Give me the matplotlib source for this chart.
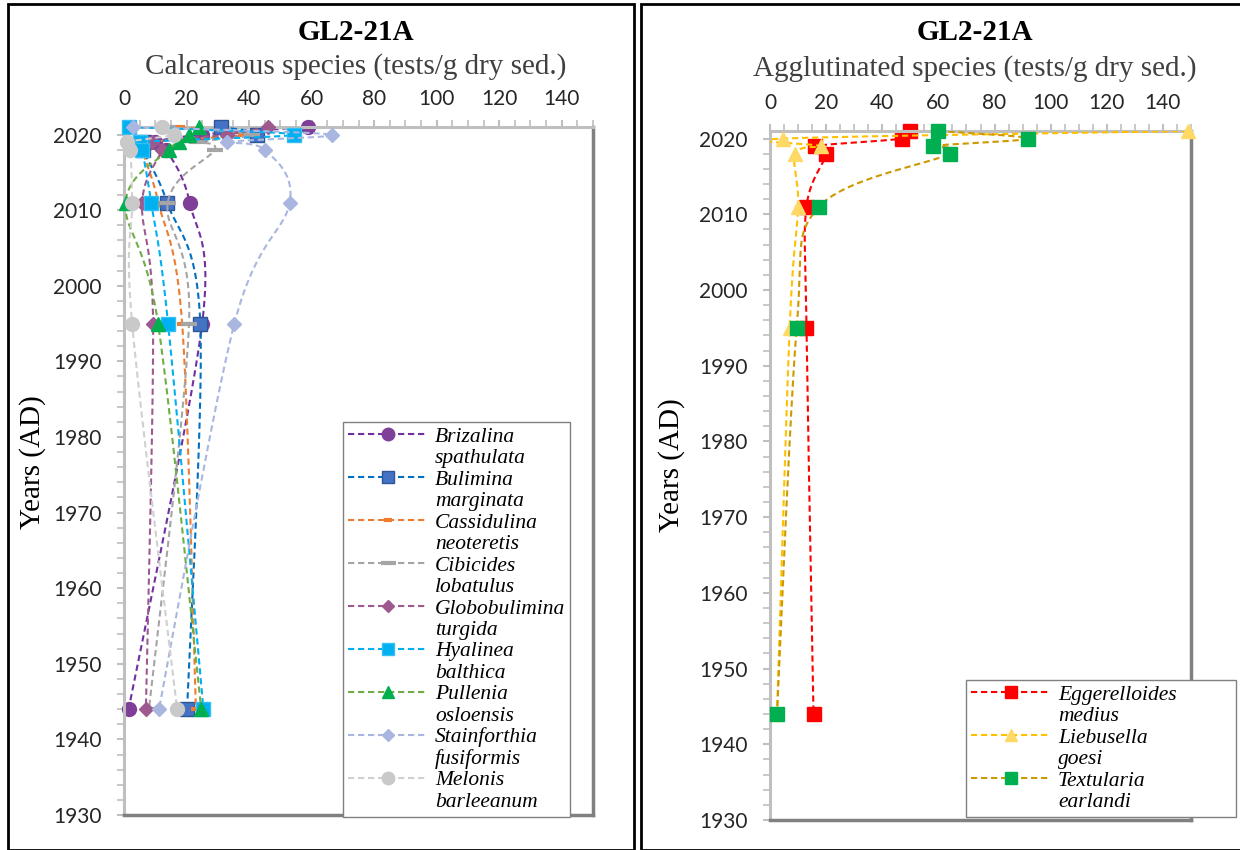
import numpy as np
import matplotlib
matplotlib.use("Agg")
import matplotlib.pyplot as plt
from matplotlib.lines import Line2D
from matplotlib.patches import Rectangle

# sample years (AD), shared by every series
years = [2021, 2020, 2019, 2018, 2011, 1995, 1944]

# calcareous species (tests/g dry sed.)
calc_genus = ["Brizalina", "Bulimina", "Cassidulina", "Cibicides", "Globobulimina",
              "Hyalinea", "Pullenia", "Stainforthia", "Melonis"]
calc_species = ["spathulata", "marginata", "neoteretis", "lobatulus", "turgida",
                "balthica", "osloensis", "fusiformis", "barleeanum"]
brizalina = [59, 25, 10, 13.5, 21, 25, 1.5]
bulimina = [31, 42.5, 6.5, 6, 13.8, 24.4, 20.2]
cassidulina = [18, 38, 8, 6, 11, 18.6, 23]
cibicides = [14, 41, 23.5, 29, 14, 20.8, 8]
globobulimina = [46, 33, 9, 12, 5.8, 9.3, 7]
hyalinea = [1.6, 54.5, 5, 5.8, 8.7, 14.1, 25.4]
pullenia = [24, 20.8, 17.6, 14.4, 0.5, 10.9, 24.7]
stainforthia = [3, 66.5, 33, 45, 53, 35.3, 11.2]
melonis = [12, 16, 1, 2, 2.6, 2.6, 17]

# agglutinated species (tests/g dry sed.)
aggl_genus = ["Eggerelloides", "Liebusella", "Textularia"]
aggl_species = ["medius", "goesi", "earlandi"]
eggerelloides = [50, 47, 16, 20, 13, 13, 15.5]
liebusella = [149, 4.5, 18, 9, 10, 7, 2.5]
textularia = [60, 92, 58, 64, 17.5, 9.5, 2.5]

# (line colour, marker, marker face, marker edge, marker size)
calc_styles = [
    ("#7030A0", "o", "#7F3F98", "#7F3F98", 10),
    ("#0070C0", "s", "#4472C4", "#2F5597", 9.5),
    ("#ED7D31", "_", "#ED7D31", "#ED7D31", 7),
    ("#A5A5A5", "_", "#A5A5A5", "#A5A5A5", 12),
    ("#9E5A8E", "D", "#9E5A8E", "#9E5A8E", 7),
    ("#00B0F0", "s", "#00B0F0", "#33BFF2", 9.5),
    ("#70AD47", "^", "#00B050", "#00B050", 10),
    ("#A9B6E0", "D", "#A9B6E0", "#A9B6E0", 7),
    ("#D0D0D0", "o", "#C9C9C9", "#C9C9C9", 10),
]
aggl_styles = [
    ("#FF0000", "s", "#FF0000", "#FF0000", 9.5),
    ("#FFC000", "^", "#FFD966", "#FFD966", 10),
    ("#CC9900", "s", "#00B050", "#00B050", 9.5),
]

DASH = (0, (3, 1.8))


def smooth(xs, ys, sx, sy, n=30):
    # Excel-like smoothed line: bezier through the points, built in pixel-ish units
    p = np.column_stack([np.asarray(xs, float) * sx, np.asarray(ys, float) * sy])
    out = [p[:1]]
    t = np.linspace(0, 1, n)[1:, None]
    for i in range(len(p) - 1):
        p0 = p[i - 1] if i > 0 else p[i]
        p3 = p[i + 2] if i + 2 < len(p) else p[i + 1]
        c1 = p[i] + (p[i + 1] - p0) / 6
        c2 = p[i + 1] - (p3 - p[i]) / 6
        seg = ((1 - t) ** 3 * p[i] + 3 * (1 - t) ** 2 * t * c1
               + 3 * (1 - t) * t ** 2 * c2 + t ** 3 * p[i + 1])
        out.append(seg)
    q = np.vstack(out)
    return q[:, 0] / sx, q[:, 1] / sy


def setup(ax):
    ax.set_xlim(0, 150)
    ax.set_ylim(1930, 2021)
    ax.xaxis.tick_top()
    ax.set_xticks(range(0, 141, 20))
    ax.set_xticks(np.arange(0, 151, 5), minor=True)
    ax.set_yticks(range(1930, 2021, 10))
    ax.set_yticks(np.arange(1930, 2022, 2), minor=True)
    ax.tick_params(which="both", color="#BFBFBF", direction="out", labelcolor="#262626")
    ax.tick_params(which="major", length=5, width=1.5, labelsize=15, pad=11)
    ax.tick_params(axis="x", which="major", pad=8)
    ax.tick_params(which="minor", length=5, width=1.2)
    for lab in ax.get_xticklabels() + ax.get_yticklabels():
        lab.set_family("Lato")
    ax.spines["left"].set_color("#BFBFBF")
    ax.spines["top"].set_color("#BFBFBF")
    ax.spines["left"].set_linewidth(2.2)
    ax.spines["top"].set_linewidth(2.2)
    ax.spines["right"].set_color("#808080")
    ax.spines["bottom"].set_color("#808080")
    ax.spines["right"].set_linewidth(2.5)
    ax.spines["bottom"].set_linewidth(2.5)


def draw(ax, series, styles, sx, sy):
    proxies = []
    for k, (vals, (lc, mk, mf, me, ms)) in enumerate(zip(series, styles)):
        xs, ys = smooth(vals, years, sx, sy)
        ax.plot(xs, ys, color=lc, lw=1.5, linestyle=DASH, zorder=2 + k)
        mew = 3 if mk == "_" else 1
        ax.plot(vals, years, linestyle="none", marker=mk, ms=ms, mfc=mf, mec=me,
                mew=mew, zorder=2.5 + k, clip_on=False)
        proxies.append(Line2D([], [], color=lc, lw=1.5, linestyle=DASH, marker=mk,
                              ms=ms * 0.9, mfc=mf, mec=me, mew=mew))
    return proxies


def add_legend(ax, fig, proxies, genus, species, anchor, width=None):
    handles, labels = [], []
    for h, g, s in zip(proxies, genus, species):
        handles += [h, Line2D([], [], linestyle="none")]
        labels += [g, s]
    kw = {}
    if width is not None:
        anchor = (anchor[0], anchor[1] - 0.01, width, 0.01)
        kw["mode"] = "expand"
    leg = ax.legend(handles, labels, loc="upper left", bbox_to_anchor=anchor,
                    bbox_transform=fig.transFigure,
                    prop=dict(family="Liberation Serif", style="italic", size=15.5),
                    handlelength=3.7, handletextpad=0.35, labelspacing=0.065,
                    borderaxespad=0, borderpad=0.22, frameon=True, fancybox=False,
                    edgecolor="#808080", framealpha=1, **kw)
    leg.get_frame().set_linewidth(1.0)
    leg.set_zorder(20)


W, H = 1240, 850
fig = plt.figure(figsize=(12.4, 8.5), dpi=100)

# panel frames
fig.patches.append(Rectangle((8 / W, 0), 626 / W, 846 / H, transform=fig.transFigure,
                             fill=False, ec="black", lw=2))
fig.patches.append(Rectangle((641 / W, 0), 600 / W, 846 / H, transform=fig.transFigure,
                             fill=False, ec="black", lw=2))

ax1 = fig.add_axes([124 / W, 1 - 815 / H, 469 / W, 688 / H])
ax2 = fig.add_axes([770 / W, 1 - 820 / H, 421 / W, 689 / H])
setup(ax1)
setup(ax2)

calc = [brizalina, bulimina, cassidulina, cibicides, globobulimina,
        hyalinea, pullenia, stainforthia, melonis]
aggl = [eggerelloides, liebusella, textularia]

p1 = draw(ax1, calc, calc_styles, 469 / 150, 688 / 91)
p2 = draw(ax2, aggl, aggl_styles, 421 / 150, 689 / 91)

add_legend(ax1, fig, p1, calc_genus, calc_species, (343 / W, 1 - 422 / H))
add_legend(ax2, fig, p2, aggl_genus, aggl_species, (966 / W, 1 - 680 / H),
           width=(1236 - 966) / W)

serif = "Liberation Serif"
fig.text(356 / W, 1 - 33 / H, "GL2-21A", ha="center", va="center",
         family=serif, weight="bold", size=21)
fig.text(356 / W, 1 - 67 / H, "Calcareous species (tests/g dry sed.)", ha="center",
         va="center", family=serif, size=21, color="#404040")
fig.text(975 / W, 1 - 33 / H, "GL2-21A", ha="center", va="center",
         family=serif, weight="bold", size=21)
fig.text(975 / W, 1 - 69 / H, "Agglutinated species (tests/g dry sed.)", ha="center",
         va="center", family=serif, size=21, color="#404040")
fig.text(33 / W, 1 - 462 / H, "Years (AD)", ha="center", va="center", rotation=90,
         family=serif, size=21)
fig.text(672 / W, 1 - 465 / H, "Years (AD)", ha="center", va="center", rotation=90,
         family=serif, size=21)

fig.savefig("out.png", dpi=100)
